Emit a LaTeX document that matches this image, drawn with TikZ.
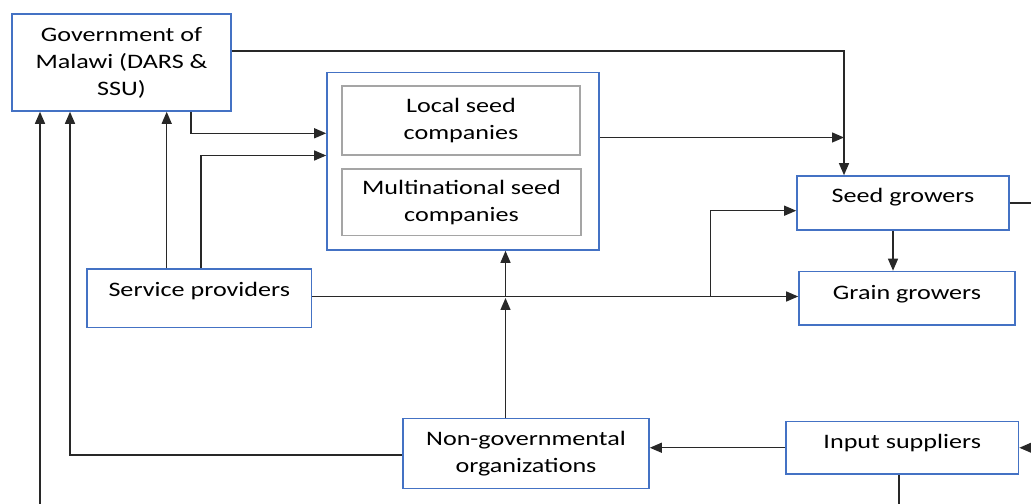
\documentclass[tikz,border=0pt]{standalone}
\usepackage{fontspec}
\setmainfont{Carlito}[FakeStretch=1.27]
\usetikzlibrary{arrows.meta}
\definecolor{boxblue}{RGB}{68,114,196}
\definecolor{innergray}{RGB}{165,165,165}
\definecolor{linegray}{RGB}{40,40,40}
\tikzset{
  box/.style={draw=boxblue, line width=0.032cm, fill=white, align=center, inner sep=0pt},
  innerbox/.style={draw=innergray, line width=0.036cm, fill=white, align=center, inner sep=0pt},
  conn/.style={draw=linegray, line width=0.026cm, -{Triangle[length=0.24cm,width=0.2cm]}},
  plain/.style={draw=linegray, line width=0.026cm}
}
\begin{document}
\begin{tikzpicture}
\useasboundingbox (0,0) rectangle (20.620000,10.080000);
\clip (0,0) rectangle (20.620000,10.080000);
{\fontsize{11.7}{15.3}\selectfont

% Drawing box Government of Malawi
\draw (2.430000,8.830000) node [box, minimum width=4.38cm, minimum height=1.94cm] (gov) {Government of\\Malawi (DARS \&\\SSU)};%

% Drawing box around the seed companies
\draw (9.260000,6.855000) node [box, minimum width=5.44cm, minimum height=3.55cm] (seedco) {};%
\draw (9.220000,7.670000) node [innerbox, minimum width=4.76cm, minimum height=1.38cm] (local) {Local seed\\companies};%
\draw (9.230000,6.035000) node [innerbox, minimum width=4.78cm, minimum height=1.33cm] (multi) {Multinational seed\\companies};%

% Drawing boxes of the growers
\draw (18.060000,6.020000) node [box, minimum width=4.24cm, minimum height=1.08cm, text height=8pt, text depth=8pt] (sgr) {Seed growers};%
\draw (18.140000,4.115000) node [box, minimum width=4.32cm, minimum height=1.07cm, text height=8pt, text depth=6.7pt] (grain) {Grain growers};%

% Drawing box Service providers
\draw (3.985000,4.115000) node [box, minimum width=4.49cm, minimum height=1.17cm, text height=8pt, text depth=9.5pt] (svc) {Service providers};%

% Drawing box Non-governmental organizations
\draw (10.520000,1.010000) node [box, minimum width=4.92cm, minimum height=1.40cm] (ngo) {Non-governmental\\organizations};%

% Drawing box Input suppliers
\draw (18.045000,1.125000) node [box, minimum width=4.65cm, minimum height=1.05cm, text height=8pt, text depth=6.7pt] (inp) {Input suppliers};%

% Marking turning points
\coordinate (topturn) at (16.880000,9.060000);%
\coordinate (fork) at (14.214000,4.150000);%
\coordinate (mid) at (10.110000,4.150000);%

% Drawing line from government to seed growers
\draw [conn] (gov.east |- topturn) -- (topturn) -- (topturn |- sgr.north);%
\draw [conn] (seedco.east |- 0,7.330000) -- (topturn |- 0,7.330000);%

% Drawing lines into the seed companies
\draw [conn] (gov.south -| 3.820000,0) |- (seedco.west |- 0,7.414000);%
\draw [conn] (svc.north -| 4.020000,0) |- (seedco.west |- 0,6.970000);%
\draw [conn] (svc.north -| 3.334000,0) -- (gov.south -| 3.334000,0);%

% Drawing line from service providers to the growers
\draw [conn] (svc.east |- fork) -- (grain.west |- fork);%
\draw [conn] (fork) |- (sgr.west |- 0,5.866000);%
\draw [conn] (sgr.south -| 17.860000,0) -- (grain.north -| 17.860000,0);%

% Drawing lines from non-governmental organizations
\draw [conn] (ngo.north -| mid) -- ([yshift=-0.03cm]mid);%
\draw [conn] (mid) -- (seedco.south -| mid);%
\draw [conn] (ngo.west |- 0,0.980000) -| (gov.south -| 1.400000,0);%

% Drawing lines of input suppliers
\draw [conn] (inp.west) -- (ngo.east |- inp.west);%
\draw [conn] (sgr.east) -- (sgr.east -| 20.626000,0) |- (inp.east);%
\draw [conn] (inp.south -| 17.980000,0) -- (17.980000,-0.320000) -| (gov.south -| 0.800000,0);%
}
\end{tikzpicture}
\end{document}
